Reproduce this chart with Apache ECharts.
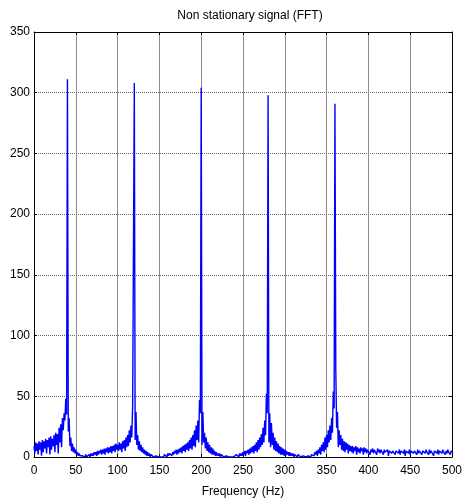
<!DOCTYPE html>
<html>
<head>
<meta charset="utf-8">
<title>Non stationary signal (FFT)</title>
<script src="https://cdn.jsdelivr.net/npm/echarts@6/dist/echarts.min.js"></script>
<style>
  html, body { margin: 0; padding: 0; background: #fff; }
  #chart { width: 465px; height: 503px; }
</style>
</head>
<body>
<div id="chart"></div>
<script>
// 频谱幅值, 每 1 Hz 一个点 (0 ~ 500 Hz)
var amplitude = [
    9, 3, 12, 5, 11, 2, 13, 6, 12, 1,        // 0
    14, 4, 13, 7, 15, 3, 14, 8, 16, 2,       // 10
    17, 6, 15, 9, 18, 4, 20, 10, 19, 3,      // 20
    24, 12, 27, 8, 32, 22, 36, 30, 48, 35,   // 30
    311, 21, 32, 9, 16, 5, 11, 4, 8, 3,      // 40
    6, 2, 4, 1, 3, 1, 2, 0, 1, 0,            // 50
    1, 0, 2, 0, 1, 1, 2, 0, 3, 1,            // 60
    3, 1, 4, 2, 4, 1, 5, 2, 5, 3,            // 70
    6, 2, 6, 3, 7, 2, 7, 4, 8, 3,            // 80
    8, 4, 9, 3, 9, 5, 10, 4, 11, 6,          // 90
    10, 5, 12, 6, 11, 4, 13, 7, 14, 5,       // 100
    16, 8, 18, 9, 22, 12, 26, 16, 42, 41,    // 110
    308, 14, 37, 10, 18, 6, 13, 5, 10, 4,    // 120
    8, 3, 6, 2, 5, 1, 4, 1, 3, 0,            // 130
    2, 1, 2, 0, 1, 0, 1, 0, 1, 0,            // 140
    0, 1, 0, 1, 1, 0, 2, 1, 2, 0,            // 150
    3, 1, 3, 2, 4, 1, 4, 2, 5, 3,            // 160
    6, 2, 6, 3, 7, 4, 8, 3, 9, 5,            // 170
    10, 4, 11, 6, 12, 5, 14, 7, 16, 6,       // 180
    18, 9, 22, 8, 26, 14, 30, 12, 47, 36,    // 190
    304, 10, 37, 12, 20, 7, 16, 5, 12, 4,    // 200
    10, 3, 8, 2, 7, 2, 5, 1, 4, 1,           // 210
    3, 1, 3, 0, 2, 1, 2, 0, 1, 0,            // 220
    1, 0, 1, 0, 0, 1, 0, 1, 1, 0,            // 230
    1, 0, 2, 1, 2, 0, 3, 1, 3, 1,            // 240
    4, 2, 5, 1, 5, 3, 6, 2, 7, 3,            // 250
    8, 4, 9, 3, 10, 5, 12, 4, 14, 6,         // 260
    16, 8, 19, 10, 24, 12, 30, 18, 52, 36,   // 270
    298, 12, 36, 8, 28, 10, 20, 6, 16, 5,    // 280
    13, 4, 11, 3, 9, 2, 8, 2, 7, 1,          // 290
    6, 1, 5, 2, 4, 1, 4, 1, 3, 1,            // 300
    3, 0, 2, 1, 2, 0, 2, 1, 1, 0,            // 310
    1, 0, 1, 0, 1, 0, 0, 1, 1, 0,            // 320
    2, 0, 2, 1, 3, 1, 4, 2, 5, 1,            // 330
    6, 3, 8, 2, 10, 5, 12, 4, 16, 6,         // 340
    18, 8, 22, 12, 26, 14, 32, 20, 54, 40,   // 350
    291, 72, 24, 37, 8, 22, 10, 18, 6, 15,   // 360
    5, 13, 4, 12, 6, 11, 3, 10, 5, 9,        // 370
    4, 9, 3, 8, 5, 9, 2, 8, 4, 7,            // 380
    3, 8, 5, 7, 2, 8, 4, 7, 3, 6,            // 390
    5, 7, 2, 6, 4, 7, 3, 6, 5, 6,            // 400
    2, 7, 4, 6, 3, 6, 5, 7, 2, 6,            // 410
    4, 5, 3, 6, 1, 5, 4, 6, 3, 5,            // 420
    4, 6, 2, 5, 4, 5, 3, 6, 2, 5,            // 430
    4, 5, 3, 6, 1, 5, 4, 5, 3, 6,            // 440
    2, 5, 4, 6, 3, 5, 4, 5, 2, 6,            // 450
    3, 5, 4, 6, 2, 5, 4, 5, 3, 6,            // 460
    4, 5, 2, 6, 3, 5, 4, 6, 1, 5,            // 470
    4, 5, 3, 6, 2, 5, 4, 5, 3, 6,            // 480
    4, 5, 2, 5, 3, 6, 4, 5, 2, 5,            // 490
    4                                        // 500
];
var freqStart = 0;   // Hz
var freqStep = 1;    // Hz

var chartTitle = 'Non stationary signal (FFT)';
var xName = 'Frequency (Hz)';

// 组装 [频率, 幅值]
var seriesData = [];
for (var i = 0; i < amplitude.length; i++) {
    seriesData.push([freqStart + i * freqStep, amplitude[i]]);
}

var font = 'Liberation Sans, Arial, sans-serif';
var chart = echarts.init(document.getElementById('chart'), null, { renderer: 'canvas' });

var option = {
    animation: false,
    backgroundColor: '#fff',
    title: {
        text: chartTitle,
        left: 245,
        textAlign: 'center',
        top: 5,
        textStyle: { fontFamily: font, fontSize: 12, fontWeight: 'normal', color: '#000' }
    },
    grid: {
        left: 34,
        right: 10,
        top: 32,
        bottom: 46
    },
    xAxis: [
        {
            type: 'value',
            min: 0,
            max: 500,
            interval: 50,
            name: xName,
            nameLocation: 'middle',
            nameGap: 29,
            nameTextStyle: { fontFamily: font, fontSize: 12, color: '#000' },
            axisLine: { onZero: false, lineStyle: { color: '#000', width: 1 } },
            axisTick: { inside: true, length: 3, lineStyle: { color: '#000' } },
            axisLabel: { fontFamily: font, fontSize: 12, color: '#000', margin: 8 },
            splitLine: { show: true, lineStyle: { color: '#8c8c8c', width: 1 } }
        },
        {
            type: 'value',
            position: 'top',
            min: 0,
            max: 500,
            interval: 50,
            axisLine: { onZero: false, lineStyle: { color: '#000', width: 1 } },
            axisTick: { inside: true, length: 3, lineStyle: { color: '#000' } },
            axisLabel: { show: false },
            splitLine: { show: false }
        }
    ],
    yAxis: [
        {
            type: 'value',
            min: 0,
            max: 350,
            interval: 50,
            axisLine: { show: true, onZero: false, lineStyle: { color: '#000', width: 1 } },
            axisTick: { show: true, inside: true, length: 3, lineStyle: { color: '#000' } },
            axisLabel: { fontFamily: font, fontSize: 12, color: '#000', margin: 4 },
            splitLine: { show: true, lineStyle: { color: '#666', width: 1, type: 'dotted' } }
        },
        {
            type: 'value',
            position: 'right',
            min: 0,
            max: 350,
            interval: 50,
            axisLine: { show: true, onZero: false, lineStyle: { color: '#000', width: 1 } },
            axisTick: { show: true, inside: true, length: 3, lineStyle: { color: '#000' } },
            axisLabel: { show: false },
            splitLine: { show: false }
        }
    ],
    series: [
        {
            type: 'line',
            data: seriesData,
            showSymbol: false,
            symbol: 'none',
            lineStyle: { color: '#0000ff', width: 1.4 },
            itemStyle: { color: '#0000ff' }
        }
    ]
};
chart.setOption(option);
</script>
</body>
</html>
